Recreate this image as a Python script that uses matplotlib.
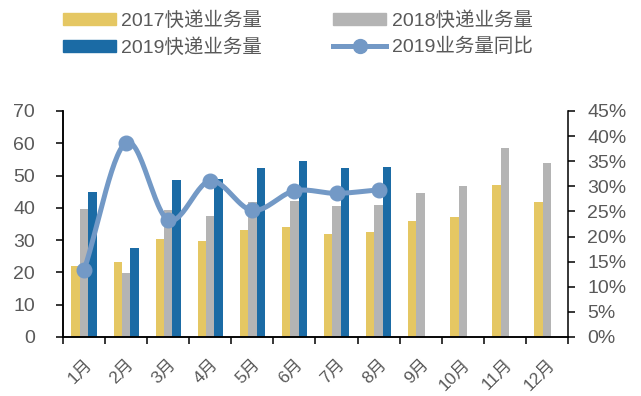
import numpy as np
import matplotlib.pyplot as plt
from matplotlib.lines import Line2D
from matplotlib.patches import Patch
from matplotlib.ticker import FuncFormatter, MultipleLocator

plt.rcParams['font.family'] = ['Liberation Sans', 'Noto Sans CJK SC', 'DejaVu Sans']

months = ['1月', '2月', '3月', '4月', '5月', '6月', '7月', '8月', '9月', '10月', '11月', '12月']
vol_2017 = [22.0, 23.3, 30.2, 29.6, 33.2, 34.0, 31.9, 32.5, 35.9, 37.3, 47.0, 41.8]
vol_2018 = [39.7, 19.8, 39.3, 37.5, 41.7, 42.2, 40.7, 40.9, 44.7, 46.7, 58.4, 54.0]
vol_2019 = [45.0, 27.5, 48.6, 49.0, 52.2, 54.5, 52.2, 52.8]
yoy_2019 = [0.133, 0.387, 0.233, 0.311, 0.252, 0.291, 0.286, 0.293]

c17 = '#E5C763'
c18 = '#B4B4B4'
c19 = '#1B6BA5'
cline = '#7399C6'
txt = '#595959'


def smooth(xs, ys, n=30):
    # Catmull-Rom curve through the points, like a spreadsheet "smoothed line"
    p = np.column_stack([xs, ys]).astype(float)
    p = np.vstack([2 * p[0] - p[1], p, 2 * p[-1] - p[-2]])
    out = []
    t = np.linspace(0, 1, n)[:, None]
    for i in range(1, len(p) - 2):
        p0, p1, p2, p3 = p[i - 1], p[i], p[i + 1], p[i + 2]
        seg = 0.5 * ((2 * p1) + (-p0 + p2) * t + (2 * p0 - 5 * p1 + 4 * p2 - p3) * t ** 2
                     + (-p0 + 3 * p1 - 3 * p2 + p3) * t ** 3)
        out.append(seg if i == 1 else seg[1:])
    out = np.vstack(out)
    return out[:, 0], out[:, 1]


fig = plt.figure(figsize=(6.41, 3.96), dpi=100)
ax = fig.add_axes([0.0983, 0.149, 0.7877, 0.5707])
ax2 = ax.twinx()

x = np.arange(len(months))
w = 0.2
ax.bar(x - w, vol_2017, w, color=c17, zorder=2)
ax.bar(x, vol_2018, w, color=c18, zorder=2)
ax.bar(np.arange(len(vol_2019)) + w, vol_2019, w, color=c19, zorder=2)

lx = np.arange(len(yoy_2019))
sx, sy = smooth(lx, yoy_2019)
ax2.plot(sx, sy, color=cline, lw=3.6, solid_capstyle='round', zorder=3)
ax2.plot(lx, yoy_2019, 'o', color=cline, ms=10.5, zorder=4)

ax.set_xlim(-0.5, len(months) - 0.5)
ax.set_ylim(0, 70)
ax.yaxis.set_major_locator(MultipleLocator(10))
ax2.set_ylim(0, 0.45)
ax2.yaxis.set_major_locator(MultipleLocator(0.05))
ax2.yaxis.set_major_formatter(FuncFormatter(lambda v, p: f'{v * 100:.0f}%'))

# tick marks between months, labels at month centres
ax.set_xticks(np.arange(-0.5, len(months)), minor=False)
ax.set_xticklabels([])
ax.set_xticks(x, minor=True)
ax.set_xticklabels(months, minor=True, rotation=45, ha='right', va='top',
                   rotation_mode='anchor', fontsize=12.5, color=txt)
ax.tick_params(axis='x', which='minor', length=0, pad=14)
ax.tick_params(axis='x', which='major', length=5, width=1.1, direction='out')
ax.tick_params(axis='y', length=5, width=1.1, labelsize=14, labelcolor=txt, pad=15)
ax2.tick_params(axis='y', length=5, width=1.1, labelsize=14, labelcolor=txt, pad=9)

for a in (ax, ax2):
    a.spines['top'].set_visible(False)
    for s in ('left', 'right', 'bottom'):
        a.spines[s].set_linewidth(1.1)
ax.spines['right'].set_visible(False)

handles = [
    Patch(color=c17, label='2017快递业务量'),
    Patch(color=c19, label='2019快递业务量'),
    Patch(color=c18, label='2018快递业务量'),
    Line2D([], [], color=cline, lw=3.6, marker='o', ms=10, label='2019业务量同比'),
]
leg = fig.legend(handles=handles, ncol=2, loc='upper left', bbox_to_anchor=(0.071, 1.015),
                 frameon=False, fontsize=14, handlelength=2.7, handleheight=0.55,
                 handletextpad=0.3, columnspacing=3.65, labelspacing=0.4)
for t in leg.get_texts():
    t.set_color(txt)

fig.savefig('out.png', dpi=100)
